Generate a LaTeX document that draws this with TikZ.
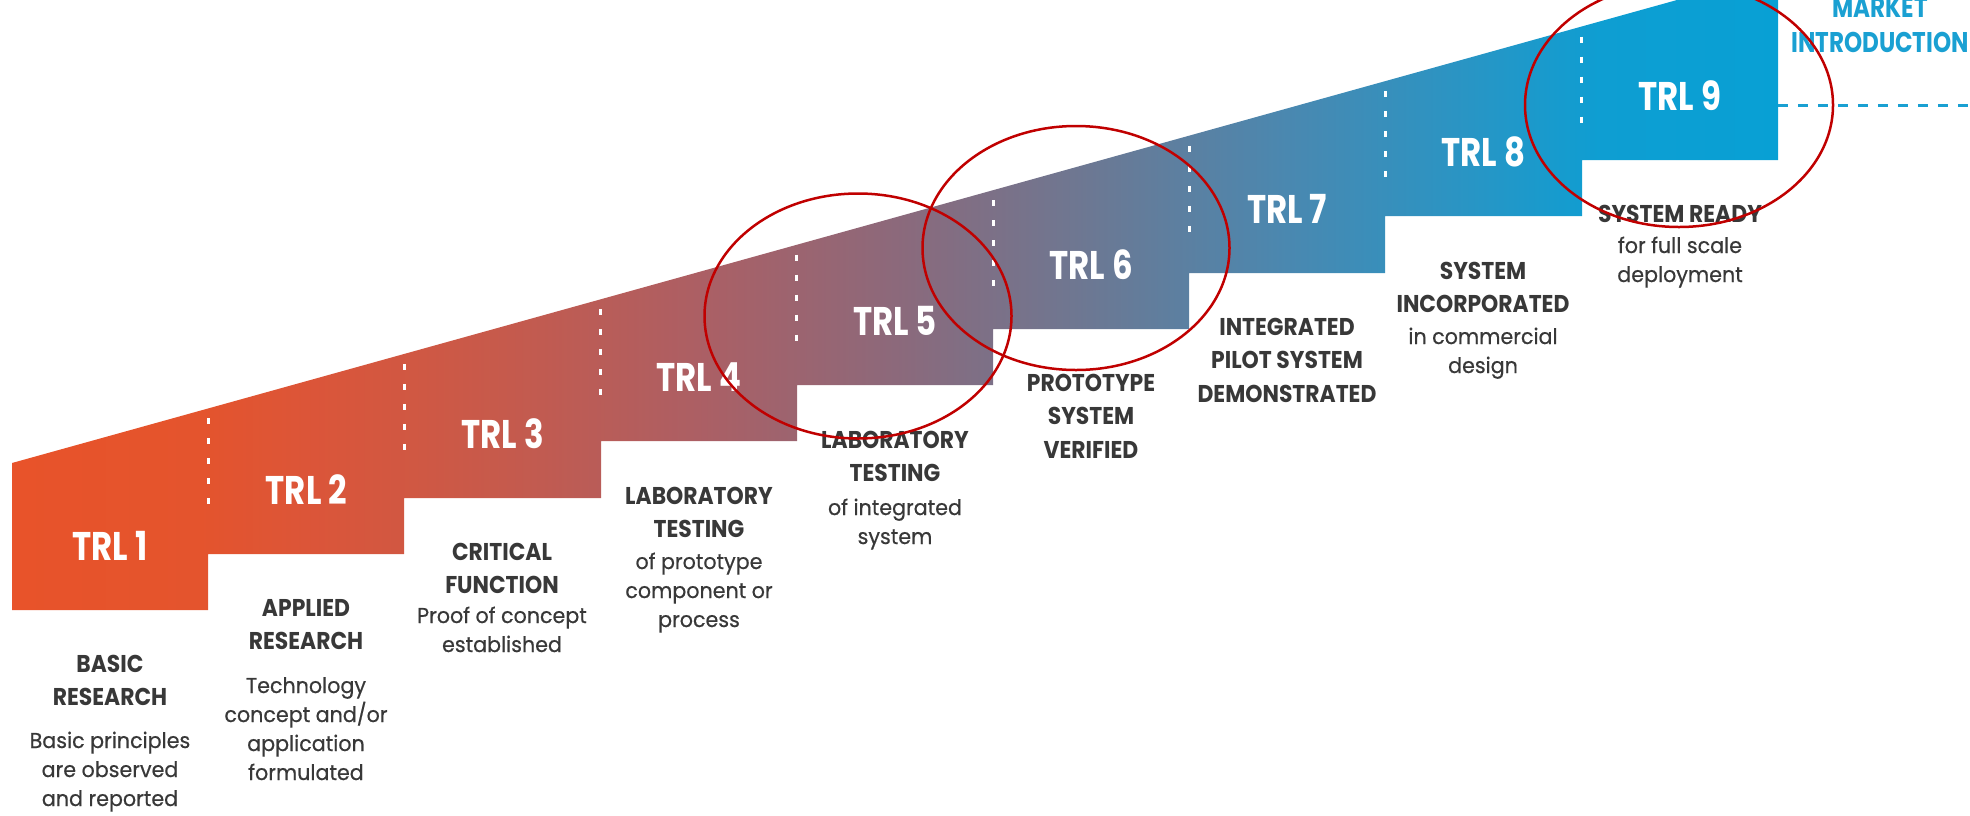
\documentclass[tikz,border=0pt]{standalone}
\usepackage{fontspec}
\setmainfont{Poppins}
\newfontfamily\trlfamily{Poppins}[FakeStretch=0.81]
\newfontfamily\hdfamily{Poppins}[FakeStretch=0.9]
\newfontfamily\bdfamily{Poppins}[FakeStretch=0.96,FakeBold=0.5]
\usepackage{tikz}
\usetikzlibrary{shapes.geometric}

\definecolor{txtgray}{HTML}{383838}
\definecolor{ringred}{HTML}{C00000}
\definecolor{mktblue}{HTML}{1AA0D2}
\definecolor{s0}{HTML}{E8532A}
\definecolor{s1}{HTML}{E4542D}
\definecolor{s2}{HTML}{DC5538}
\definecolor{s3}{HTML}{C65A4C}
\definecolor{s4}{HTML}{AC5F64}
\definecolor{s5}{HTML}{8C697B}
\definecolor{s6}{HTML}{6C7893}
\definecolor{s7}{HTML}{4A88B0}
\definecolor{s8}{HTML}{2696C6}
\definecolor{s9}{HTML}{0E9ED2}
\definecolor{s10}{HTML}{08A0D4}

% left to right: orange -> blue
\pgfdeclarehorizontalshading{trlshade}{100bp}{color(0bp)=(s0); color(25bp)=(s0);
  color(30.3bp)=(s1); color(33.3bp)=(s2); color(38.9bp)=(s3); color(44.4bp)=(s4);
  color(50bp)=(s5); color(55.5bp)=(s6); color(61.1bp)=(s7); color(66.6bp)=(s8);
  color(70bp)=(s9); color(75bp)=(s10); color(100bp)=(s10)}

\tikzset{
  trl/.style={text=white,font=\trlfamily\bfseries\fontsize{40}{40}\selectfont,inner sep=0pt},
  hd/.style={text=txtgray,font=\hdfamily\bfseries\fontsize{24.3}{33.5}\selectfont,align=center,anchor=base,inner sep=0pt},
  bd/.style={text=txtgray,font=\bdfamily\fontsize{21.5}{29}\selectfont,align=center,anchor=base,inner sep=0pt},
  sep/.style={white,line width=3pt,dash pattern=on 6pt off 14pt},
  ring/.style={ellipse,draw=ringred,line width=2.5pt,inner sep=0pt},
  mkt/.style={text=mktblue,font=\trlfamily\bfseries\fontsize{28.5}{35}\selectfont,align=center,anchor=base,inner sep=0pt},
  mktline/.style={mktblue,line width=3pt,dash pattern=on 10pt off 10pt}
}

\begin{document}
\begin{tikzpicture}[x=1pt,y=-1pt]
\useasboundingbox (0,0) rectangle (1970,815);
\clip (0,0) rectangle (1970,815);

% staircase
\shade[shading=trlshade] (12,463) -- (1677,0) -- (1778,0) -- (1778,160) -- (1582,160)
  -- (1582,216) -- (1385,216) -- (1385,273) -- (1189,273) -- (1189,329) -- (993,329)
  -- (993,385) -- (797,385) -- (797,441) -- (601,441) -- (601,498) -- (404,498)
  -- (404,554) -- (208,554) -- (208,610) -- (12,610) -- cycle;

\foreach \i in {1,...,8} {
  \pgfmathsetmacro\sx{12+196.2*\i}
  \pgfmathsetmacro\sy{305-0.278*(\sx-580)}
  \draw[sep] (\sx,\sy+10) -- (\sx,\sy+96);
}

\foreach \i in {1,...,9}
  \node[trl] (trl\i) at ({12+196.2*(\i-0.5)},{546-56.25*(\i-1)}) {TRL \i};

% descriptions (anchored at the last line)
\node[hd] (d1h) at (110,705.5) {BASIC\\RESEARCH};
\node[bd] (d1b) at (110,806) {Basic principles\\are observed\\and reported};
\node[hd] (d2h) at (306,649.5) {APPLIED\\RESEARCH};
\node[bd] (d2b) at (306,780) {Technology\\concept and/or\\application\\formulated};
\node[hd] (d3h) at (502,593.5) {CRITICAL\\FUNCTION};
\node[bd] (d3b) at (502,652) {Proof of concept\\established};
\node[hd] (d4h) at (699,537.5) {LABORATORY\\TESTING};
\node[bd] (d4b) at (699,627) {of prototype\\component or\\process};
\node[hd] (d5h) at (895,481.5) {LABORATORY\\TESTING};
\node[bd] (d5b) at (895,544) {of integrated\\system};
\node[hd] (d6h) at (1091,458) {PROTOTYPE\\SYSTEM\\VERIFIED};
\node[hd] (d7h) at (1287,402) {INTEGRATED\\PILOT SYSTEM\\DEMONSTRATED};
\node[hd] (d8h) at (1483,312.5) {SYSTEM\\INCORPORATED};
\node[bd] (d8b) at (1483,373) {in commercial\\design};
\node[hd] (d9h) at (1680,222) {SYSTEM READY};
\node[bd] (d9b) at (1680,282) {for full scale\\deployment};

% market
\node[mkt] (market) at (1880,52) {MARKET\\INTRODUCTION};
\coordinate (mktA) at (1778,105);
\coordinate (mktB) at (1970,105);
\draw[mktline] (mktA) -- (mktB);

% red rings
\node[ring,minimum width=307pt,minimum height=245pt] (ring5) at (858,316) {};
\node[ring,minimum width=307pt,minimum height=244pt] (ring6) at (1076,248) {};
\node[ring,minimum width=308pt,minimum height=244pt] (ring9) at (1679,105) {};
\end{tikzpicture}
\end{document}
